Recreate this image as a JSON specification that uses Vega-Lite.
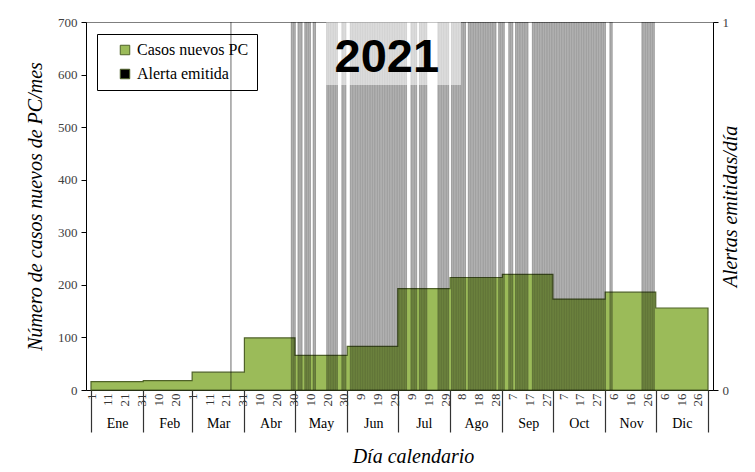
{
  "$schema": "https://vega.github.io/schema/vega-lite/v6.json",
  "width": 627,
  "height": 368,
  "autosize": {"type": "none"},
  "padding": {"left": 86, "top": 22, "right": 42, "bottom": 82},
  "background": "white",
  "config": {
    "view": {"stroke": "#7f7f7f", "strokeWidth": 1},
    "axis": {"grid": false}
  },
  "datasets": {
    "cases": [
      {"day": 0, "casos": 16}, {"day": 31, "casos": 18}, {"day": 60, "casos": 34},
      {"day": 91, "casos": 99}, {"day": 121, "casos": 66}, {"day": 152, "casos": 83},
      {"day": 182, "casos": 193}, {"day": 213, "casos": 214}, {"day": 244, "casos": 220},
      {"day": 274, "casos": 173}, {"day": 305, "casos": 186}, {"day": 335, "casos": 156},
      {"day": 366, "casos": 156}
    ],
    "titulo": [
      {"texto": "2021", "x1": 139.5, "x2": 219.5, "y1": 580, "y2": 700, "xt": 175.5, "yt": 605}
    ],
    "alerts": [
      {"day": 83, "alerta": 1},
      {"day": 119, "alerta": 1}, {"day": 120, "alerta": 1}, {"day": 121, "alerta": 1},
      {"day": 123, "alerta": 1}, {"day": 124, "alerta": 1}, {"day": 125, "alerta": 1},
      {"day": 127, "alerta": 1}, {"day": 128, "alerta": 1}, {"day": 129, "alerta": 1}, {"day": 130, "alerta": 1},
      {"day": 132, "alerta": 1}, {"day": 133, "alerta": 1},
      {"day": 140, "alerta": 1}, {"day": 141, "alerta": 1}, {"day": 142, "alerta": 1}, {"day": 143, "alerta": 1},
      {"day": 144, "alerta": 1}, {"day": 145, "alerta": 1}, {"day": 146, "alerta": 1},
      {"day": 149, "alerta": 1}, {"day": 150, "alerta": 1}, {"day": 151, "alerta": 1},
      {"day": 154, "alerta": 1}, {"day": 155, "alerta": 1}, {"day": 156, "alerta": 1}, {"day": 157, "alerta": 1},
      {"day": 158, "alerta": 1}, {"day": 159, "alerta": 1}, {"day": 160, "alerta": 1}, {"day": 161, "alerta": 1},
      {"day": 162, "alerta": 1}, {"day": 163, "alerta": 1}, {"day": 164, "alerta": 1}, {"day": 165, "alerta": 1},
      {"day": 166, "alerta": 1}, {"day": 167, "alerta": 1}, {"day": 168, "alerta": 1},
      {"day": 169, "alerta": 1}, {"day": 170, "alerta": 1}, {"day": 171, "alerta": 1}, {"day": 172, "alerta": 1},
      {"day": 173, "alerta": 1}, {"day": 174, "alerta": 1}, {"day": 175, "alerta": 1}, {"day": 176, "alerta": 1},
      {"day": 177, "alerta": 1}, {"day": 178, "alerta": 1}, {"day": 179, "alerta": 1}, {"day": 180, "alerta": 1},
      {"day": 181, "alerta": 1}, {"day": 182, "alerta": 1}, {"day": 183, "alerta": 1}, {"day": 184, "alerta": 1},
      {"day": 185, "alerta": 1}, {"day": 186, "alerta": 1}, {"day": 187, "alerta": 1},
      {"day": 190, "alerta": 1}, {"day": 191, "alerta": 1}, {"day": 192, "alerta": 1}, {"day": 193, "alerta": 1},
      {"day": 195, "alerta": 1}, {"day": 196, "alerta": 1}, {"day": 197, "alerta": 1}, {"day": 198, "alerta": 1}, {"day": 199, "alerta": 1},
      {"day": 206, "alerta": 1}, {"day": 207, "alerta": 1}, {"day": 208, "alerta": 1}, {"day": 209, "alerta": 1},
      {"day": 210, "alerta": 1}, {"day": 211, "alerta": 1}, {"day": 212, "alerta": 1},
      {"day": 214, "alerta": 1}, {"day": 215, "alerta": 1}, {"day": 216, "alerta": 1}, {"day": 217, "alerta": 1},
      {"day": 218, "alerta": 1}, {"day": 219, "alerta": 1}, {"day": 220, "alerta": 1}, {"day": 221, "alerta": 1}, {"day": 222, "alerta": 1},
      {"day": 224, "alerta": 1}, {"day": 225, "alerta": 1}, {"day": 226, "alerta": 1}, {"day": 227, "alerta": 1},
      {"day": 228, "alerta": 1}, {"day": 229, "alerta": 1}, {"day": 230, "alerta": 1}, {"day": 231, "alerta": 1},
      {"day": 232, "alerta": 1}, {"day": 233, "alerta": 1}, {"day": 234, "alerta": 1}, {"day": 235, "alerta": 1},
      {"day": 236, "alerta": 1}, {"day": 237, "alerta": 1}, {"day": 238, "alerta": 1}, {"day": 239, "alerta": 1}, {"day": 240, "alerta": 1},
      {"day": 242, "alerta": 1}, {"day": 243, "alerta": 1}, {"day": 244, "alerta": 1}, {"day": 245, "alerta": 1},
      {"day": 248, "alerta": 1}, {"day": 249, "alerta": 1}, {"day": 250, "alerta": 1},
      {"day": 252, "alerta": 1}, {"day": 253, "alerta": 1}, {"day": 254, "alerta": 1}, {"day": 255, "alerta": 1},
      {"day": 256, "alerta": 1}, {"day": 257, "alerta": 1}, {"day": 258, "alerta": 1}, {"day": 259, "alerta": 1},
      {"day": 262, "alerta": 1}, {"day": 263, "alerta": 1}, {"day": 264, "alerta": 1}, {"day": 265, "alerta": 1},
      {"day": 266, "alerta": 1}, {"day": 267, "alerta": 1}, {"day": 268, "alerta": 1}, {"day": 269, "alerta": 1},
      {"day": 270, "alerta": 1}, {"day": 271, "alerta": 1}, {"day": 272, "alerta": 1}, {"day": 273, "alerta": 1},
      {"day": 274, "alerta": 1}, {"day": 275, "alerta": 1}, {"day": 276, "alerta": 1}, {"day": 277, "alerta": 1},
      {"day": 278, "alerta": 1}, {"day": 279, "alerta": 1}, {"day": 280, "alerta": 1}, {"day": 281, "alerta": 1}, {"day": 282, "alerta": 1},
      {"day": 283, "alerta": 1}, {"day": 284, "alerta": 1}, {"day": 285, "alerta": 1}, {"day": 286, "alerta": 1},
      {"day": 287, "alerta": 1}, {"day": 288, "alerta": 1}, {"day": 289, "alerta": 1}, {"day": 290, "alerta": 1},
      {"day": 291, "alerta": 1}, {"day": 292, "alerta": 1}, {"day": 293, "alerta": 1}, {"day": 294, "alerta": 1},
      {"day": 295, "alerta": 1}, {"day": 296, "alerta": 1}, {"day": 297, "alerta": 1}, {"day": 298, "alerta": 1},
      {"day": 299, "alerta": 1}, {"day": 300, "alerta": 1}, {"day": 301, "alerta": 1}, {"day": 302, "alerta": 1},
      {"day": 303, "alerta": 1}, {"day": 304, "alerta": 1}, {"day": 305, "alerta": 1},
      {"day": 308, "alerta": 1}, {"day": 309, "alerta": 1},
      {"day": 327, "alerta": 1}, {"day": 328, "alerta": 1}, {"day": 329, "alerta": 1}, {"day": 330, "alerta": 1},
      {"day": 331, "alerta": 1}, {"day": 332, "alerta": 1}, {"day": 333, "alerta": 1}, {"day": 334, "alerta": 1}
    ]
  },
  "layer": [
    {
      "data": {"name": "cases"},
      "mark": {"type": "area", "interpolate": "step-after", "stroke": "#4f6228", "strokeWidth": 1.2, "opacity": 1},
      "encoding": {
        "x": {
          "field": "day", "type": "quantitative",
          "scale": {"domain": [0, 366], "nice": false, "zero": false},
          "axis": {
            "orient": "bottom",
            "values": [0, 10, 20, 30, 40, 50, 60, 70, 80, 90, 100, 110, 120, 130, 140, 150, 160, 170, 180, 190, 200, 210, 220, 230, 240, 250, 260, 270, 280, 290, 300, 310, 320, 330, 340, 350, 360],
            "labelExpr": "date(datetime(2020, 0, 1 + datum.value))",
            "labelAngle": 270,
            "labelFont": "Liberation Serif",
            "labelFontSize": 13,
            "labelColor": "#333333",
            "labelPadding": 3,
            "labelOverlap": false,
            "labelFlush": false,
            "ticks": false,
            "domainColor": "black",
            "domainWidth": 1,
            "title": null
          }
        },
        "y": {
          "field": "casos", "type": "quantitative",
          "scale": {"domain": [0, 700], "nice": false},
          "axis": {
            "values": [0, 100, 200, 300, 400, 500, 600, 700],
            "tickSize": 5,
            "tickColor": "black",
            "domainColor": "black",
            "labelFont": "Liberation Serif",
            "labelFontSize": 13,
            "labelColor": "#404040",
            "labelPadding": 4,
            "title": "Número de casos nuevos de PC/mes",
            "titleFont": "Liberation Serif",
            "titleFontStyle": "italic",
            "titleFontWeight": "normal",
            "titleFontSize": 20,
            "titleColor": "black",
            "titlePadding": 12
          }
        },
        "color": {
          "datum": "Casos nuevos PC",
          "scale": {"domain": ["Casos nuevos PC", "Alerta emitida"], "range": ["#9bbb59", "#000000"]},
          "legend": {
            "orient": "none",
            "legendX": 11,
            "legendY": 12,
            "title": null,
            "strokeColor": "black",
            "padding": 8,
            "symbolType": "square",
            "symbolSize": 90,
            "symbolStrokeColor": "#4f6228",
            "symbolStrokeWidth": 1,
            "symbolOpacity": 1,
            "symbolOffset": 12,
            "labelFont": "Liberation Serif",
            "labelFontSize": 16,
            "labelColor": "black",
            "rowPadding": 8,
            "encode": {
              "symbols": {
                "update": {
                  "opacity": {"value": 1},
                  "fillOpacity": {"value": 1},
                  "strokeOpacity": {"value": 1},
                  "stroke": {"value": "#4f6228"},
                  "strokeWidth": {"value": 1}
                }
              }
            }
          }
        }
      }
    },
    {
      "data": {"name": "alerts"},
      "mark": {"type": "bar", "width": 1.6, "opacity": 0.37},
      "encoding": {
        "x": {
          "field": "day", "type": "quantitative",
          "scale": {"domain": [0, 366], "nice": false, "zero": false},
          "axis": {
            "orient": "bottom",
            "values": [0, 31, 60, 91, 121, 152, 182, 213, 244, 274, 305, 335, 366],
            "labelExpr": "{'0':'Ene','31':'Feb','60':'Mar','91':'Abr','121':'May','152':'Jun','182':'Jul','213':'Ago','244':'Sep','274':'Oct','305':'Nov','335':'Dic','366':''}[datum.value + '']",
            "labelOffset": 26,
            "labelAngle": 0,
            "labelAlign": "center",
            "labelBaseline": "top",
            "labelFont": "Liberation Serif",
            "labelFontSize": 14,
            "labelColor": "black",
            "labelPadding": -16,
            "labelOverlap": false,
            "labelFlush": false,
            "tickSize": 42,
            "tickColor": "#333333",
            "tickWidth": 1.2,
            "domain": false,
            "title": "Día calendario",
            "titleX": 327,
            "titleFont": "Liberation Serif",
            "titleFontStyle": "italic",
            "titleFontWeight": "normal",
            "titleFontSize": 20,
            "titleColor": "black",
            "titlePadding": 14
          }
        },
        "y": {
          "field": "alerta", "type": "quantitative",
          "scale": {"domain": [0, 1], "nice": false},
          "axis": {
            "orient": "right",
            "values": [0, 1],
            "format": "d",
            "tickSize": 5,
            "tickColor": "black",
            "domainColor": "black",
            "labelFont": "Liberation Serif",
            "labelFontSize": 13,
            "labelColor": "#404040",
            "labelPadding": 4,
            "title": "Alertas emitidas/día",
            "titleAngle": 270,
            "titleFont": "Liberation Serif",
            "titleFontStyle": "italic",
            "titleFontWeight": "normal",
            "titleFontSize": 20,
            "titleColor": "black",
            "titlePadding": 12
          }
        },
        "color": {"datum": "Alerta emitida"}
      }
    },
    {
      "data": {"name": "titulo"},
      "layer": [
        {
          "mark": {"type": "rect", "fill": "white", "opacity": 0.55},
          "encoding": {
            "x": {"field": "x1", "type": "quantitative", "scale": {"domain": [0, 366], "nice": false, "zero": false}, "axis": null},
            "x2": {"field": "x2"},
            "y": {"field": "y1", "type": "quantitative", "scale": {"domain": [0, 700], "nice": false}, "axis": null},
            "y2": {"field": "y2"}
          }
        },
        {
          "mark": {"type": "text", "font": "Liberation Sans", "fontSize": 47, "fontWeight": "bold", "color": "black", "align": "center", "baseline": "alphabetic"},
          "encoding": {
            "x": {"field": "xt", "type": "quantitative", "axis": null},
            "y": {"field": "yt", "type": "quantitative", "axis": null},
            "text": {"field": "texto"}
          }
        }
      ]
    }
  ],
  "resolve": {"scale": {"y": "independent"}, "axis": {"x": "independent"}}
}
